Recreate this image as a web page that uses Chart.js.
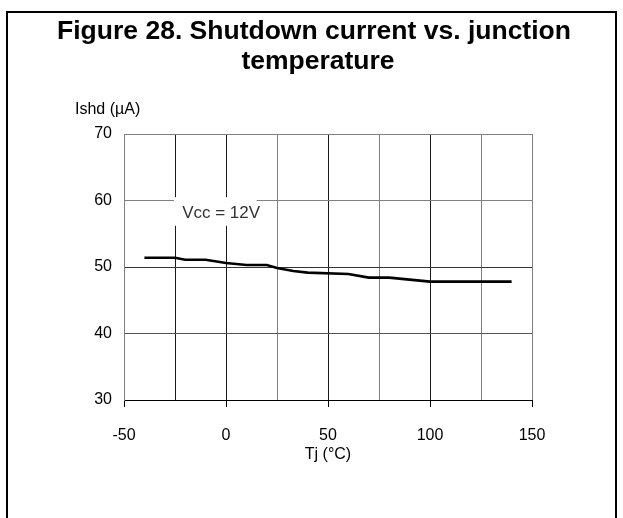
<!DOCTYPE html>
<html>
<head>
<meta charset="utf-8">
<script src="https://cdn.jsdelivr.net/npm/chart.js@4/dist/chart.umd.min.js"></script>
<style>
  html, body { margin: 0; padding: 0; background: #fff; overflow: hidden; }
  #wrap { position: relative; width: 623px; height: 518px; }
  #frame { position: absolute; left: 6px; top: 11px; width: 607px; height: 600px;
           border: 2px solid #000; border-bottom: none; pointer-events: none; }
  #chart { position: absolute; left: 0; top: 0; }
</style>
</head>
<body>
<div id="wrap">
  <canvas id="chart" width="623" height="518"></canvas>
  <div id="frame"></div>
</div>
<script>
// --- data ---
const tempC  = [-40, -25, -20, -10, 0, 10, 20, 25, 33, 40, 60, 70, 80, 100, 140];
const ishdUA = [51.4, 51.4, 51.1, 51.1, 50.6, 50.3, 50.3, 49.85, 49.4, 49.15, 48.95, 48.4, 48.4, 47.8, 47.8];

const titleLines = ['Figure 28. Shutdown current vs. junction', 'temperature'];
const yTitle = 'Ishd (\u00b5A)';
const xTitle = 'Tj (\u00b0C)';
const noteText = 'Vcc = 12V';

const FONT = "'Liberation Sans', Arial, Helvetica, sans-serif";

// title, y-axis caption and the Vcc note
const decorations = {
  id: 'decorations',
  afterDraw(chart) {
    const { ctx, scales: { x, y } } = chart;
    ctx.save();
    ctx.fillStyle = '#000';
    ctx.textAlign = 'center';
    ctx.textBaseline = 'alphabetic';
    ctx.font = `bold 26.5px ${FONT}`;
    ctx.fillText(titleLines[0], 314, 39);
    ctx.fillText(titleLines[1], 318, 69);

    ctx.textAlign = 'left';
    ctx.font = `16px ${FONT}`;
    ctx.fillText(yTitle, 75, 114);

    // white box behind the note, hides the grid
    const l = x.getPixelForValue(-25.5), r = x.getPixelForValue(15);
    const t = y.getPixelForValue(60.5), b = y.getPixelForValue(56.2);
    ctx.fillStyle = '#fff';
    ctx.fillRect(l, t, r - l, b - t);
    ctx.fillStyle = '#333';
    ctx.font = `17px ${FONT}`;
    ctx.fillText(noteText, x.getPixelForValue(-21.5), y.getPixelForValue(57.3));
    ctx.restore();
  }
};

const xGridColor = v => ([-25, 0, 50, 100].includes(v) ? '#1a1a1a' : '#808080');
const yGridColor = v => ({ 30: '#000', 40: '#555', 50: '#333' }[v] || '#808080');

new Chart(document.getElementById('chart'), {
  type: 'line',
  data: {
    datasets: [{
      data: tempC.map((t, i) => ({ x: t, y: ishdUA[i] })),
      borderColor: '#000',
      borderWidth: 2.6,
      pointRadius: 0,
      tension: 0,
      fill: false
    }]
  },
  options: {
    responsive: false,
    animation: false,
    devicePixelRatio: 1,
    layout: { padding: { top: 134, right: 91, bottom: 53.4, left: 0 } },
    plugins: { legend: { display: false }, tooltip: { enabled: false }, title: { display: false } },
    scales: {
      x: {
        type: 'linear',
        min: -50, max: 150,
        afterFit: s => { s.height = 64.6; },
        border: { display: true, color: '#000', width: 1 },
        grid: {
          color: c => xGridColor(c.tick.value),
          lineWidth: 1,
          tickLength: 7,
          tickColor: c => (c.tick.value % 50 === 0 ? '#000' : 'rgba(0,0,0,0)')
        },
        ticks: {
          stepSize: 25,
          maxRotation: 0,
          autoSkip: false,
          padding: 19,
          color: '#000',
          font: { family: FONT, size: 16 },
          callback: v => (v % 50 === 0 ? String(v) : '')
        },
        title: {
          display: true,
          text: xTitle,
          color: '#000',
          padding: 0,
          font: { family: FONT, size: 16 }
        }
      },
      y: {
        min: 30, max: 70,
        afterFit: s => { s.width = 124; },
        border: { display: true, color: '#808080', width: 1 },
        grid: {
          color: c => yGridColor(c.tick.value),
          lineWidth: 1,
          drawTicks: false
        },
        ticks: {
          stepSize: 10,
          padding: 12,
          color: '#000',
          font: { family: FONT, size: 16 }
        }
      }
    }
  },
  plugins: [decorations]
});
</script>
</body>
</html>
